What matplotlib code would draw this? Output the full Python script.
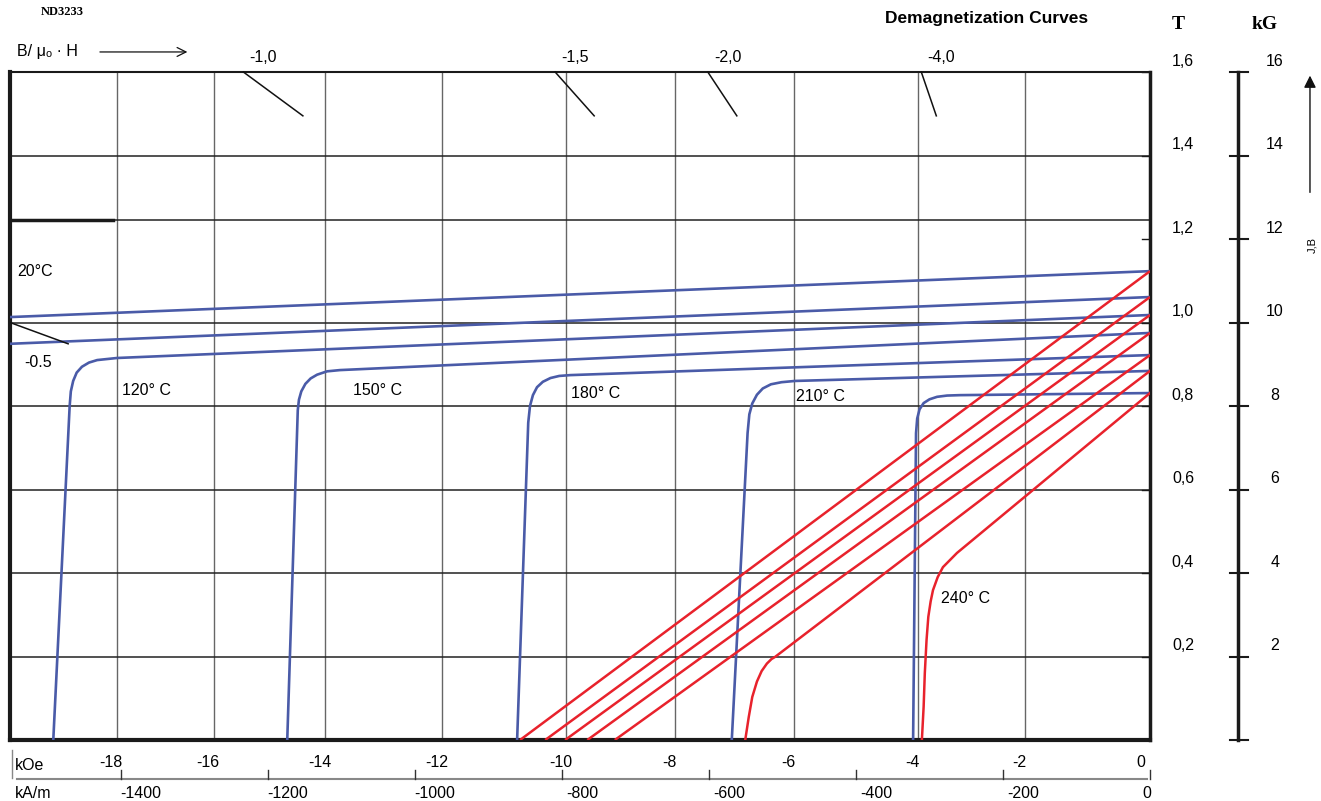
import matplotlib.pyplot as plt
import numpy as np

# field axis in kOe, induction in T
H_MIN = -19.49

# J(H) curves (blue): H in kOe, J in T
j_20_h = [-19.49, 0.0]
j_20_b = [1.013, 1.123]
j_80_h = [-19.49, 0.0]
j_80_b = [0.949, 1.061]
j_120_h = [-18.75, -18.47, -18.45, -18.41, -18.35, -18.26, -18.14, -18.0,
           -17.66, 0.0]
j_120_b = [0.0, 0.800, 0.835, 0.860, 0.880, 0.894, 0.904, 0.910, 0.915, 1.018]
j_150_h = [-14.75, -14.57, -14.55, -14.51, -14.44, -14.35, -14.24, -14.07,
           -13.85, 0.0]
j_150_b = [0.0, 0.790, 0.815, 0.835, 0.853, 0.866, 0.875, 0.883, 0.886, 0.975]
j_180_h = [-10.82, -10.63, -10.60, -10.55, -10.48, -10.38, -10.25, -10.10,
           -9.91, 0.0]
j_180_b = [0.0, 0.760, 0.800, 0.826, 0.845, 0.858, 0.867, 0.872, 0.874, 0.922]
j_210_h = [-7.15, -6.88, -6.85, -6.80, -6.72, -6.62, -6.48, -6.30, -6.07, 0.0]
j_210_b = [0.0, 0.735, 0.780, 0.806, 0.827, 0.842, 0.852, 0.857, 0.860, 0.884]
j_240_h = [-4.05, -4.0, -3.98, -3.94, -3.87, -3.77, -3.64, -3.47, -3.25, 0.0]
j_240_b = [0.0, 0.735, 0.770, 0.792, 0.807, 0.816, 0.822, 0.825, 0.826, 0.831]

# B(H) curves (red)
b_lines_br = [1.123, 1.061, 1.018, 0.975, 0.922]
b_lines_hcb = [-10.77, -10.34, -10.0, -9.62, -9.15]
b_210_h = [-6.92, -6.86, -6.80, -6.72, -6.64, -6.55, -6.47, -6.41, 0.0]
b_210_b = [0.0, 0.055, 0.103, 0.140, 0.165, 0.183, 0.194, 0.199, 0.884]
b_240_h = [-3.90, -3.87, -3.85, -3.82, -3.79, -3.75, -3.71, -3.63, -3.54,
           -3.30, 0.0]
b_240_b = [0.0, 0.080, 0.160, 0.240, 0.295, 0.332, 0.359, 0.390, 0.414,
           0.448, 0.831]

# load lines B/mu0H: label, H where the line meets the top edge
load_labels = ["-1,0", "-1,5", "-2,0", "-4,0"]
load_top_h = [-15.5, -10.17, -7.56, -3.91]

# grid
grid_h = [-17.66, -16.0, -14.10, -12.10, -9.98, -8.12, -6.09, -3.97, -2.14]
koe_labels = ["-18", "-16", "-14", "-12", "-10", "-8", "-6", "-4", "-2"]
grid_b = [0.2, 0.4, 0.6, 0.8, 1.0, 1.245, 1.4]
t_ticks = [0.2, 0.4, 0.6, 0.8, 1.0, 1.2, 1.4, 1.6]
t_labels = ["0,2", "0,4", "0,6", "0,8", "1,0", "1,2", "1,4", "1,6"]
kg_ticks = [0, 2, 4, 6, 8, 10, 12, 14, 16]
kam_ticks = [-1400, -1200, -1000, -800, -600, -400, -200, 0]
KAM_PER_KOE = 79.577

temp_labels = ["20°C", "120° C", "150° C", "180° C", "210° C", "240° C"]
temp_pos = [(-19.06, 1.121), (-17.15, 0.836), (-13.2, 0.838),
            (-9.47, 0.831), (-5.64, 0.822), (-3.16, 0.340)]

BLUE = "#4a5ba8"
RED = "#e8222c"
SANS = ["Liberation Sans", "DejaVu Sans"]
SERIF = ["Liberation Serif", "DejaVu Serif"]
FS = 11.5

plt.rcParams["font.family"] = SANS

fig = plt.figure(figsize=(13.21, 8.01), dpi=100)
ax = fig.add_axes([10 / 1321, 61 / 801, 1140 / 1321, 668 / 801])
ax.set_xlim(H_MIN, 0)
ax.set_ylim(0, 1.6)
ax.set_xticks([])
ax.set_yticks([])
for side, lw in [("left", 3), ("bottom", 3), ("right", 2.5), ("top", 1.5)]:
    ax.spines[side].set_linewidth(lw)
    ax.spines[side].set_color("#1a1a1a")

# grid lines
for h in grid_h:
    ax.axvline(h, color="#666666", lw=1.0, zorder=1)
for b in grid_b:
    ax.axhline(b, color="#222222", lw=1.1, zorder=1)
ax.plot([H_MIN, -17.73], [1.245, 1.245], color="#1a1a1a", lw=2.5, zorder=2)
for t in t_ticks:
    ax.plot([-0.14, 0], [t, t], color="#1a1a1a", lw=1.0, zorder=2)

# J curves
for hh, bb in [(j_20_h, j_20_b), (j_80_h, j_80_b), (j_120_h, j_120_b),
               (j_150_h, j_150_b), (j_180_h, j_180_b), (j_210_h, j_210_b),
               (j_240_h, j_240_b)]:
    ax.plot(hh, bb, color=BLUE, lw=1.9, zorder=3, solid_capstyle="butt",
            solid_joinstyle="round")

# B curves
for br, hc in zip(b_lines_br, b_lines_hcb):
    ax.plot([hc, 0], [0, br], color=RED, lw=1.8, zorder=4, solid_capstyle="butt")
ax.plot(b_210_h, b_210_b, color=RED, lw=1.8, zorder=4, solid_joinstyle="round")
ax.plot(b_240_h, b_240_b, color=RED, lw=1.8, zorder=4, solid_joinstyle="round")

# load lines (pointing to the origin)
for lab, h0 in zip(load_labels, load_top_h):
    ax.plot([h0, h0 * 1.495 / 1.6], [1.6, 1.495], color="#111111", lw=1.1,
            clip_on=False, zorder=5)
    ax.text(h0 + 0.34, 1.634, lab, ha="center", va="center", fontsize=FS,
            clip_on=False)
ax.plot([H_MIN, H_MIN * 0.949], [1.0, 0.949], color="#111111", lw=1.1,
        zorder=5)
ax.text(-19.01, 0.905, "-0.5", ha="center", va="center", fontsize=FS)

for lab, (x, y) in zip(temp_labels, temp_pos):
    ax.text(x, y, lab, ha="center", va="center", fontsize=FS, zorder=6)

# header texts
ax.text(-18.97, 1.744, "ND3233", fontsize=9, fontweight="bold",
        family=SERIF, ha="left", va="center", clip_on=False)
ax.text(-2.79, 1.729, "Demagnetization Curves", fontsize=12.5,
        fontweight="bold", ha="center", va="center", clip_on=False)
ax.text(0.479, 1.713, "T", fontsize=14, fontweight="bold", family=SERIF,
        ha="center", va="center", clip_on=False)
ax.text(1.966, 1.713, "kG", fontsize=14, fontweight="bold", family=SERIF,
        ha="center", va="center", clip_on=False)
ax.text(-19.37, 1.648, "B/ μₒ · H", fontsize=FS, ha="left", va="center",
        clip_on=False)
ax.annotate("", xy=(-16.41, 1.648), xytext=(-18.0, 1.648),
            arrowprops=dict(arrowstyle="->", lw=0.9, color="#111111",
                            mutation_scale=16),
            annotation_clip=False)

# T labels on the right
for t, lab in zip(t_ticks, t_labels):
    ax.text(0.564, t + 0.026, lab, ha="center", va="center", fontsize=FS,
            clip_on=False)

# kG axis
KG_X = 1.504
ax.plot([KG_X, KG_X], [0, 1.6], color="#1a1a1a", lw=2.5, clip_on=False)
for kg in kg_ticks:
    ax.plot([KG_X - 0.136, KG_X + 0.171], [kg / 10, kg / 10], color="#1a1a1a",
            lw=1.5, clip_on=False)
    if kg > 0:
        ax.text(2.137, kg / 10 + 0.026, str(kg), ha="center", va="center",
                fontsize=FS, clip_on=False)
ax.annotate("", xy=(2.735, 1.598), xytext=(2.735, 1.305),
            arrowprops=dict(arrowstyle="-|>", lw=1.0, color="#111111",
                            mutation_scale=18),
            annotation_clip=False)
ax.text(2.77, 1.186, "J,B", rotation=90, ha="center", va="center",
        fontsize=8, clip_on=False)

# kOe scale below the chart
ax.plot([-19.45, -19.45], [-0.024, -0.091], color="#888888", lw=1.0,
        clip_on=False)
ax.text(-19.40, -0.060, "kOe", ha="left", va="center", fontsize=FS,
        clip_on=False)
for h, lab in zip(grid_h, koe_labels):
    ax.text(h - 0.1, -0.0527, lab, ha="center", va="center", fontsize=FS,
            clip_on=False)
ax.text(-0.15, -0.0527, "0", ha="center", va="center", fontsize=FS,
        clip_on=False)

# kA/m scale
ax.plot([-19.37, -0.05], [-0.0934, -0.0934], color="#888888", lw=1.5,
        clip_on=False)
ax.text(-19.40, -0.127, "kA/m", ha="left", va="center", fontsize=FS,
        clip_on=False)
for v in kam_ticks:
    h = v / KAM_PER_KOE
    ax.plot([h, h], [-0.0934, -0.0719], color="#333333", lw=1.0,
            clip_on=False)
    off = 0.34 if v != 0 else -0.05
    ax.text(h + off, -0.127, str(v), ha="center", va="center", fontsize=FS,
            clip_on=False)

fig.savefig("out.png", dpi=100)
plt.close()
